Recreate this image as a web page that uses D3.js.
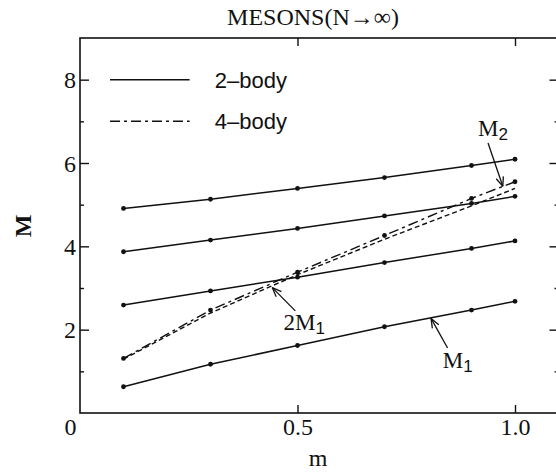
<!DOCTYPE html>
<html>
<head>
<meta charset="utf-8">
<script src="https://cdn.jsdelivr.net/npm/d3@7"></script>
<style>
  html, body { margin: 0; padding: 0; background: #fff; }
  svg { display: block; }
</style>
</head>
<body>
<svg id="chart" width="556" height="473"></svg>
<script>
// ---- data ----
const mValues   = [0.1, 0.3, 0.5, 0.7, 0.9, 1.0];
const twoBodyM1 = [0.63, 1.17, 1.62, 2.07, 2.47, 2.68];
const twoBodyB  = [2.59, 2.93, 3.26, 3.61, 3.95, 4.13];
const twoBodyC  = [3.87, 4.15, 4.43, 4.73, 5.03, 5.20];
const twoBodyD  = [4.91, 5.13, 5.39, 5.65, 5.94, 6.09];
const fourBodyM2 = [1.31, 2.47, 3.38, 4.26, 5.15, 5.55];
const twiceM1    = [1.29, 2.40, 3.32, 4.17, 4.97, 5.39];

const yMajorTicks = [2, 4, 6, 8];
const yMinorTicks = [1, 3, 5, 7];
const xTicks = [0.5, 1.0];
const xTickLabels = ["0", "0.5", "1.0"];
const legendLabels = ["2\u2013body", "4\u2013body"];

// annotations in data units: label position, arrow tail, arrow head
const annLabels = [
  { main: "M", sub: "2", m: 0.915, v: 6.66 },
  { main: "2M", sub: "1", m: 0.468, v: 1.99 },
  { main: "M", sub: "1", m: 0.834, v: 1.08 }
];
const annArrows = [
  { m0: 0.938, v0: 6.48, m1: 0.972, v1: 5.44 },
  { m0: 0.495, v0: 2.45, m1: 0.442, v1: 3.01 },
  { m0: 0.845, v0: 1.56, m1: 0.807, v1: 2.27 }
];

// ---- layout ----
const svg = d3.select("#chart");
const x = d3.scaleLinear().domain([0, 1.1]).range([80, 558.5]);
const y = d3.scaleLinear().domain([0, 9]).range([413, 38]);
const serif = "'Liberation Serif', 'Times New Roman', serif";
const sans = "'Liberation Sans', Arial, sans-serif";
const ink = "#111";

// frame
svg.append("rect")
  .attr("x", x(0)).attr("y", y(9))
  .attr("width", x(1.1) - x(0)).attr("height", y(0) - y(9))
  .attr("fill", "none").attr("stroke", ink).attr("stroke-width", 1.6);

function styleAxis(g) {
  g.select(".domain").remove();
  g.selectAll(".tick line").attr("stroke", ink).attr("stroke-width", 1.4);
}

// left axis
svg.append("g").attr("transform", `translate(${x(0)},0)`)
  .call(d3.axisLeft(y).tickValues(yMajorTicks).tickSizeInner(-9).tickSizeOuter(0).tickPadding(4).tickFormat(d3.format("d")))
  .call(styleAxis)
  .call(g => g.selectAll("text").attr("font-family", serif).attr("font-size", 24).attr("fill", ink).attr("dy", "0.34em"));
svg.append("g").attr("transform", `translate(${x(0)},0)`)
  .call(d3.axisLeft(y).tickValues(yMinorTicks).tickSizeInner(-4).tickSizeOuter(0).tickFormat(""))
  .call(styleAxis);
// right axis
svg.append("g").attr("transform", `translate(${x(1.1)},0)`)
  .call(d3.axisRight(y).tickValues(yMajorTicks).tickSizeInner(-9).tickSizeOuter(0).tickFormat(""))
  .call(styleAxis);
svg.append("g").attr("transform", `translate(${x(1.1)},0)`)
  .call(d3.axisRight(y).tickValues(yMinorTicks).tickSizeInner(-4).tickSizeOuter(0).tickFormat(""))
  .call(styleAxis);
// bottom axis
svg.append("g").attr("transform", `translate(0,${y(0)})`)
  .call(d3.axisBottom(x).tickValues([0].concat(xTicks)).tickSizeInner(-8).tickSizeOuter(0).tickPadding(5)
        .tickFormat((d, i) => xTickLabels[i]))
  .call(styleAxis)
  .call(g => {
    g.selectAll("text").attr("font-family", serif).attr("font-size", 24).attr("fill", ink);
    g.selectAll(".tick").filter(d => d === 0).select("line").remove();
    g.selectAll(".tick").filter(d => d === 0).select("text").attr("x", -10);
  });
// top axis
svg.append("g").attr("transform", `translate(0,${y(9)})`)
  .call(d3.axisTop(x).tickValues(xTicks).tickSizeInner(-8).tickSizeOuter(0).tickFormat(""))
  .call(styleAxis);

// titles
svg.append("text").attr("x", 313).attr("y", 25).attr("text-anchor", "middle")
  .attr("font-family", serif).attr("font-size", 24).attr("fill", ink)
  .text("MESONS(N\u2192\u221E)");
svg.append("text").attr("x", 318).attr("y", 466).attr("text-anchor", "middle")
  .attr("font-family", serif).attr("font-size", 24).attr("fill", ink).text("m");
svg.append("text").attr("transform", "translate(23,226) rotate(-90)").attr("text-anchor", "middle")
  .attr("font-family", serif).attr("font-weight", "bold").attr("font-size", 24).attr("fill", ink)
  .attr("dy", "0.35em").text("M");

// lines
const line = d3.line().x(d => x(d[0])).y(d => y(d[1]));
const solidSeries = [twoBodyM1, twoBodyB, twoBodyC, twoBodyD];
const plotLayer = svg.append("g");

plotLayer.selectAll("path.twoM1").data([twiceM1]).join("path")
  .attr("d", vals => line(vals.map((v, i) => [mValues[i], v])))
  .attr("fill", "none").attr("stroke", ink).attr("stroke-width", 1.4)
  .attr("stroke-dasharray", "5,3");

plotLayer.selectAll("path.four").data([fourBodyM2]).join("path")
  .attr("d", vals => line(vals.map((v, i) => [mValues[i], v])))
  .attr("fill", "none").attr("stroke", ink).attr("stroke-width", 1.4)
  .attr("stroke-dasharray", "10,4,3,4");

plotLayer.selectAll("path.solid").data(solidSeries).join("path")
  .attr("d", vals => line(vals.map((v, i) => [mValues[i], v])))
  .attr("fill", "none").attr("stroke", ink).attr("stroke-width", 1.5);

const dotSeries = solidSeries.concat([fourBodyM2]);
dotSeries.forEach(vals => {
  plotLayer.append("g").selectAll("circle").data(vals).join("circle")
    .attr("cx", (v, i) => x(mValues[i])).attr("cy", v => y(v))
    .attr("r", 2.4).attr("fill", ink);
});

// legend
const legendKeys = [{ v: 8, dash: null }, { v: 7, dash: "10,4,3,4" }];
legendKeys.forEach((k, i) => {
  svg.append("line").attr("x1", x(0.069)).attr("x2", x(0.252))
    .attr("y1", y(k.v)).attr("y2", y(k.v))
    .attr("stroke", ink).attr("stroke-width", 1.5)
    .attr("stroke-dasharray", k.dash);
  svg.append("text").attr("x", x(0.31)).attr("y", y(k.v)).attr("dy", "0.36em")
    .attr("font-family", sans).attr("font-size", 22).attr("fill", ink)
    .text(legendLabels[i]);
});

// annotations
annLabels.forEach(a => {
  const t = svg.append("text").attr("x", x(a.m)).attr("y", y(a.v))
    .attr("font-family", serif).attr("font-size", 23).attr("fill", ink);
  t.append("tspan").text(a.main);
  t.append("tspan").attr("font-family", sans).attr("font-size", 17).attr("dy", 4).text(a.sub);
});
annArrows.forEach(a => {
  const x0 = x(a.m0), y0 = y(a.v0), x1 = x(a.m1), y1 = y(a.v1);
  svg.append("line").attr("x1", x0).attr("y1", y0).attr("x2", x1).attr("y2", y1)
    .attr("stroke", ink).attr("stroke-width", 1.3);
  const ang = Math.atan2(y1 - y0, x1 - x0);
  const L = 10, spread = 0.38;
  [ang + Math.PI - spread, ang + Math.PI + spread].forEach(b => {
    svg.append("line").attr("x1", x1).attr("y1", y1)
      .attr("x2", x1 + L * Math.cos(b)).attr("y2", y1 + L * Math.sin(b))
      .attr("stroke", ink).attr("stroke-width", 1.3);
  });
});
</script>
</body>
</html>
